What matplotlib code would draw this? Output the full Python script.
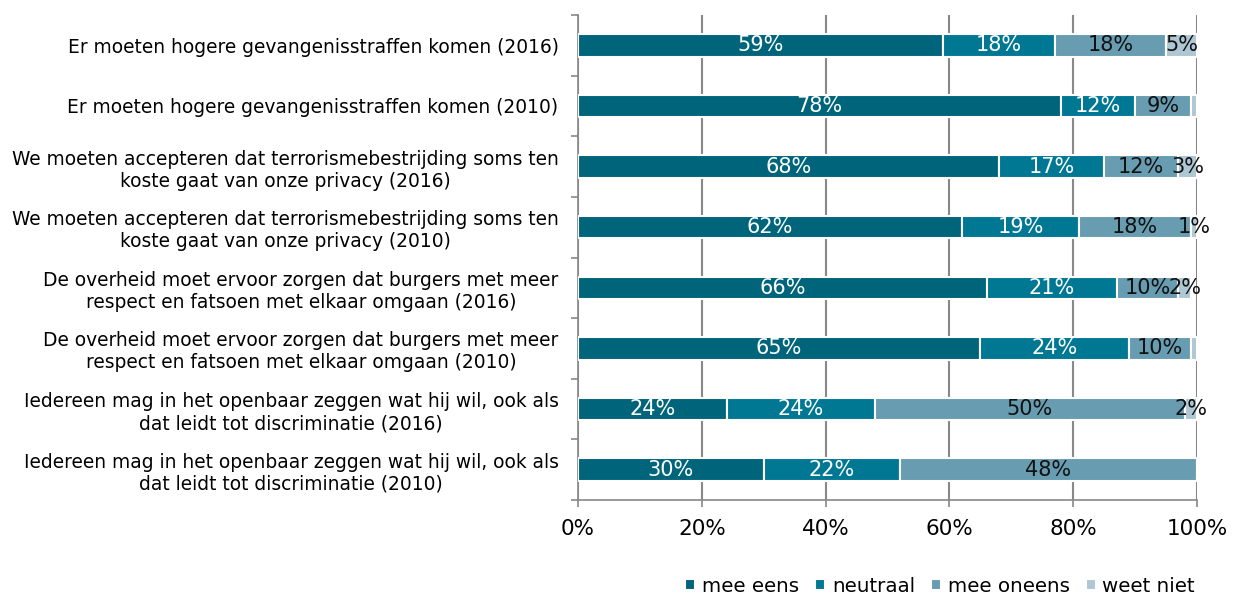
import matplotlib
matplotlib.use("Agg")
import matplotlib.pyplot as plt
import numpy as np

categories = [
    "Er moeten hogere gevangenisstraffen komen (2016)",
    "Er moeten hogere gevangenisstraffen komen (2010)",
    "We moeten accepteren dat terrorismebestrijding soms ten\nkoste gaat van onze privacy (2016)",
    "We moeten accepteren dat terrorismebestrijding soms ten\nkoste gaat van onze privacy (2010)",
    "De overheid moet ervoor zorgen dat burgers met meer\nrespect en fatsoen met elkaar omgaan (2016)",
    "De overheid moet ervoor zorgen dat burgers met meer\nrespect en fatsoen met elkaar omgaan (2010)",
    "Iedereen mag in het openbaar zeggen wat hij wil, ook als\ndat leidt tot discriminatie (2016)",
    "Iedereen mag in het openbaar zeggen wat hij wil, ook als\ndat leidt tot discriminatie (2010)",
]
series_names = ["mee eens", "neutraal", "mee oneens", "weet niet"]
mee_eens = [59, 78, 68, 62, 66, 65, 24, 30]
neutraal = [18, 12, 17, 19, 21, 24, 24, 22]
mee_oneens = [18, 9, 12, 18, 10, 10, 50, 48]
weet_niet = [5, 1, 3, 1, 2, 1, 2, 0]
# labels not shown in the reference for these (series, category) pairs
hidden_labels = {(3, 1), (3, 5), (3, 7)}

colors = ["#00657B", "#007894", "#689CB1", "#AFC7D3"]
text_colors = ["white", "white", "#111111", "#111111"]

fig = plt.figure(figsize=(12.38, 5.98), dpi=100)
ax = fig.add_axes([578/1238, 1 - 500/598, (1197-578)/1238, (500-15)/598])

data = [mee_eens, neutraal, mee_oneens, weet_niet]
n = len(categories)
y = np.arange(n)
left = np.zeros(n)
for si, vals in enumerate(data):
    vals = np.array(vals, dtype=float)
    bars = ax.barh(y, vals, left=left, height=0.37, color=colors[si],
                   edgecolor="white", linewidth=1.5, label=series_names[si], zorder=3)
    for ci, (b, v) in enumerate(zip(bars, vals)):
        if v <= 0 or (si, ci) in hidden_labels:
            continue
        ax.text(left[ci] + v / 2, y[ci], f"{int(v)}%", ha="center", va="center",
                color=text_colors[si], fontsize=15, zorder=4)
    left += vals

ax.set_xlim(0, 100)
ax.set_ylim(n - 0.5, -0.5)
ax.set_xticks([0, 20, 40, 60, 80, 100])
ax.set_xticklabels([f"{v}%" for v in [0, 20, 40, 60, 80, 100]], fontsize=15.5)
ax.set_yticks(y)
ax.set_yticklabels(categories, fontsize=13.4, multialignment="center")
ax.set_yticks(np.arange(-0.5, n, 1.0), minor=True)
ax.tick_params(axis="y", which="major", length=0, pad=14)
ax.tick_params(axis="y", which="minor", length=5, color="#888888", width=1.2)
ax.tick_params(axis="x", length=5, color="#888888", width=1.2, pad=9)
ax.grid(axis="x", color="#888888", linewidth=1.5, zorder=0)
for s in ["top", "right"]:
    ax.spines[s].set_visible(False)
for s in ["left", "bottom"]:
    ax.spines[s].set_color("#888888")
    ax.spines[s].set_linewidth(1.2)

handles, labels = ax.get_legend_handles_labels()
fig.legend(handles, labels, loc="lower right", bbox_to_anchor=(1208/1238, -0.018),
           ncol=4, frameon=False, fontsize=14.3, handlelength=0.5, handleheight=0.5,
           handletextpad=0.35, columnspacing=0.8, borderpad=0.15)

fig.savefig("out.png", dpi=100)
